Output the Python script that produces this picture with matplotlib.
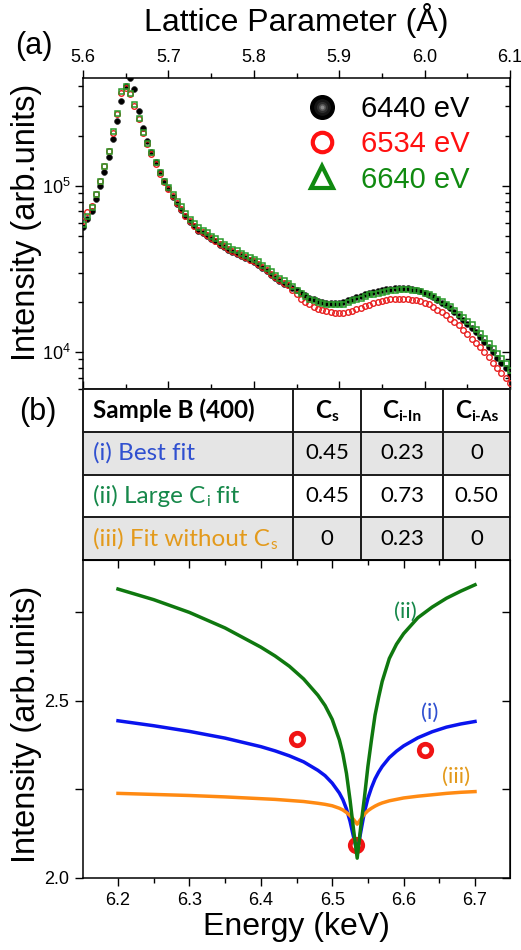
import numpy as np
import matplotlib
matplotlib.use("Agg")
import matplotlib.pyplot as plt
from matplotlib.lines import Line2D
from matplotlib.patches import Rectangle
from matplotlib.legend_handler import HandlerTuple
from matplotlib.ticker import (MultipleLocator, FixedLocator, NullFormatter,
                               FuncFormatter, LogLocator)
from matplotlib import font_manager

# ---------------- data: panel (a) ----------------
# lattice parameter sampling grid (Angstrom), 5.600 ... 6.100 in 0.005 steps
lattice = np.round(np.arange(5.600, 6.1001, 0.005), 3)

# log10 of intensity
log_6440 = [4.75, 4.80, 4.85, 4.92, 5.00, 5.08, 5.17, 5.28, 5.39, 5.51,
            5.60, 5.65, 5.58, 5.45, 5.35, 5.27, 5.20, 5.14, 5.08, 5.03,
            4.985, 4.93, 4.89, 4.855, 4.815, 4.78, 4.755, 4.73, 4.715, 4.70,
            4.68, 4.665, 4.645, 4.63, 4.615, 4.60, 4.59, 4.575, 4.565, 4.55,
            4.54, 4.525, 4.505, 4.485, 4.465, 4.445, 4.425, 4.41, 4.40, 4.385,
            4.37, 4.355, 4.34, 4.325, 4.315, 4.305, 4.30, 4.295, 4.292, 4.292,
            4.293, 4.30, 4.31, 4.32, 4.33, 4.335, 4.345, 4.355, 4.36, 4.365,
            4.37, 4.376, 4.38, 4.383, 4.384, 4.384, 4.383, 4.38, 4.375, 4.368,
            4.355, 4.342, 4.33, 4.313, 4.296, 4.28, 4.262, 4.237, 4.215, 4.193,
            4.167, 4.145, 4.118, 4.09, 4.06, 4.03, 3.998, 3.96, 3.93, 3.90,
            3.86]
log_6534 = [4.79, 4.84, 4.88, 4.95, 5.03, 5.12, 5.21, 5.32, 5.43, 5.56,
            5.59, 5.55, 5.48, 5.40, 5.315, 5.25, 5.19, 5.13, 5.07, 5.02,
            4.98, 4.935, 4.895, 4.86, 4.82, 4.785, 4.76, 4.735, 4.72, 4.705,
            4.685, 4.67, 4.65, 4.635, 4.62, 4.605, 4.595, 4.58, 4.57, 4.555,
            4.545, 4.53, 4.51, 4.49, 4.47, 4.45, 4.43, 4.415, 4.40, 4.375,
            4.35, 4.32, 4.30, 4.287, 4.272, 4.26, 4.25, 4.243, 4.238, 4.235,
            4.234, 4.236, 4.24, 4.246, 4.256, 4.266, 4.276, 4.284, 4.292, 4.30,
            4.306, 4.311, 4.315, 4.318, 4.319, 4.318, 4.316, 4.313, 4.309, 4.304,
            4.295, 4.287, 4.27, 4.252, 4.237, 4.22, 4.20, 4.18, 4.16, 4.13,
            4.108, 4.08, 4.055, 4.03, 4.00, 3.97, 3.935, 3.90, 3.87, 3.84,
            3.81]
log_6640 = [4.77, 4.82, 4.87, 4.95, 5.03, 5.12, 5.21, 5.33, 5.44, 5.57,
            5.60, 5.56, 5.49, 5.41, 5.325, 5.26, 5.20, 5.14, 5.08, 5.03,
            4.99, 4.95, 4.91, 4.875, 4.835, 4.80, 4.775, 4.75, 4.735, 4.72,
            4.70, 4.685, 4.665, 4.65, 4.635, 4.62, 4.61, 4.595, 4.585, 4.57,
            4.56, 4.545, 4.525, 4.505, 4.485, 4.465, 4.445, 4.43, 4.415, 4.395,
            4.375, 4.355, 4.335, 4.32, 4.31, 4.30, 4.295, 4.29, 4.285, 4.285,
            4.285, 4.29, 4.30, 4.31, 4.32, 4.325, 4.335, 4.345, 4.35, 4.355,
            4.36, 4.368, 4.372, 4.375, 4.376, 4.376, 4.376, 4.374, 4.37, 4.365,
            4.355, 4.345, 4.335, 4.32, 4.305, 4.29, 4.275, 4.25, 4.23, 4.21,
            4.185, 4.165, 4.14, 4.113, 4.085, 4.055, 4.025, 3.99, 3.96, 3.93,
            3.89]
energy_labels = ["6440 eV", "6534 eV", "6640 eV"]
lattice_ticks = [5.6, 5.7, 5.8, 5.9, 6.0, 6.1]

# ---------------- data: table (b) ----------------
table_cols = ["Sample B (400)", ("C", "s"), ("C", "i-In"), ("C", "i-As")]
table_rows = [[("(i) Best fit", False)],
              [("(ii) Large C", False), ("i", True), (" fit", False)],
              [("(iii) Fit without C", False), ("s", True)]]
table_vals = [["0.45", "0.23", "0"],
              ["0.45", "0.73", "0.50"],
              ["0", "0.23", "0"]]

# ---------------- data: panel (b) curves ----------------
E_fit = [6.20, 6.25, 6.30, 6.35, 6.40, 6.42, 6.44, 6.46, 6.48, 6.49, 6.50,
         6.51, 6.515, 6.52, 6.525, 6.53, 6.535, 6.54, 6.545, 6.55, 6.555, 6.56,
         6.565, 6.57, 6.58, 6.59, 6.60, 6.62, 6.64, 6.66, 6.68, 6.70]
I_best = [2.444, 2.430, 2.414, 2.395, 2.371, 2.359, 2.345, 2.328, 2.304, 2.289,
          2.268, 2.240, 2.221, 2.195, 2.160, 2.115, 2.075, 2.130, 2.185, 2.225,
          2.255, 2.280, 2.299, 2.315, 2.340, 2.358, 2.373, 2.396, 2.413, 2.426,
          2.435, 2.442]
I_large = [2.816, 2.786, 2.750, 2.706, 2.652, 2.627, 2.598, 2.562, 2.516, 2.487,
           2.448, 2.390, 2.350, 2.295, 2.220, 2.135, 2.056, 2.145, 2.225, 2.315,
           2.390, 2.460, 2.510, 2.555, 2.620, 2.660, 2.690, 2.735, 2.765, 2.790,
           2.810, 2.828]
I_nocs = [2.239, 2.236, 2.233, 2.229, 2.224, 2.222, 2.219, 2.216, 2.211, 2.208,
          2.204, 2.197, 2.192, 2.185, 2.176, 2.165, 2.152, 2.166, 2.180, 2.190,
          2.197, 2.203, 2.208, 2.212, 2.218, 2.222, 2.226, 2.231, 2.235, 2.239,
          2.242, 2.244]
E_meas = [6.45, 6.533, 6.63]
I_meas = [2.393, 2.093, 2.362]
curve_tags = ["(i)", "(ii)", "(iii)"]
tag_E = [6.637, 6.602, 6.673]
tag_I = [2.465, 2.752, 2.286]
energy_ticks = [6.2, 6.3, 6.4, 6.5, 6.6, 6.7]

# ---------------- styling ----------------
names = {f.name for f in font_manager.fontManager.ttflist}
MAIN = "Liberation Sans" if "Liberation Sans" in names else "DejaVu Sans"
TABF = "Lato" if "Lato" in names else MAIN
plt.rcParams["font.family"] = [MAIN, "DejaVu Sans"]
plt.rcParams["mathtext.fontset"] = "custom"
plt.rcParams["mathtext.rm"] = MAIN
plt.rcParams["mathtext.it"] = MAIN + ":italic"
plt.rcParams["mathtext.bf"] = MAIN + ":bold"
plt.rcParams["mathtext.default"] = "regular"

C_BLUE, C_GREEN, C_ORANGE = "#0a14ee", "#0f780f", "#ff8a12"
T_BLUE, T_GREEN, T_ORANGE = "#3050d0", "#16884a", "#e39a1c"

W, H = 521, 950
fig = plt.figure(figsize=(W / 100, H / 100), dpi=100)


def box(l, t, r, b):
    return [l / W, 1 - b / H, (r - l) / W, (b - t) / H]


def mirror(ax, which, direction="in"):
    if which == "x":
        sec = ax.secondary_xaxis("bottom" if ax.xaxis.get_ticks_position() == "top" else "top")
        sec.xaxis.set_major_locator(ax.xaxis.get_major_locator())
        sec.xaxis.set_minor_locator(ax.xaxis.get_minor_locator())
        sec.xaxis.set_major_formatter(NullFormatter())
        sec.xaxis.set_minor_formatter(NullFormatter())
    else:
        sec = ax.secondary_yaxis("right")
        sec.yaxis.set_major_locator(ax.yaxis.get_major_locator())
        sec.yaxis.set_minor_locator(ax.yaxis.get_minor_locator())
        sec.yaxis.set_major_formatter(NullFormatter())
        sec.yaxis.set_minor_formatter(NullFormatter())
    sec.tick_params(which="major", direction=direction, length=6, width=1)
    sec.tick_params(which="minor", direction=direction, length=3.5, width=1)
    return sec


# ================= panel (a) =================
ax1 = fig.add_axes(box(83, 78, 510, 389))
ax1.plot(lattice, 10 ** np.array(log_6440), "o", ms=4.2, mfc="black", mec="#333333",
         mew=0.5, zorder=2)
ax1.plot(lattice, 10 ** np.array(log_6534), "o", ms=4.0, mfc="none", mec="#e82020",
         mew=1.0, zorder=3)
ax1.plot(lattice, 10 ** np.array(log_6640), "s", ms=3.6, mfc="none", mec="#2a9a2a",
         mew=1.1, zorder=4)
ax1.set_xlim(5.6, 6.1)
ax1.set_yscale("log")
ax1.set_ylim(5.97e3, 4.45e5)

ax1.xaxis.tick_top()
ax1.xaxis.set_label_position("top")
ax1.xaxis.set_major_locator(FixedLocator(lattice_ticks))
ax1.xaxis.set_minor_locator(MultipleLocator(0.05))
ax1.xaxis.set_major_formatter(FuncFormatter(lambda v, p: f"{v:.1f}"))
ax1.yaxis.set_major_locator(FixedLocator([1e4, 1e5]))
ax1.yaxis.set_minor_locator(LogLocator(base=10, subs=range(2, 10)))
ax1.yaxis.set_major_formatter(FuncFormatter(lambda v, p: r"$10^{%d}$" % round(np.log10(v))))
ax1.yaxis.set_minor_formatter(NullFormatter())
ax1.tick_params(which="major", direction="out", length=6, width=1, labelsize=13, pad=3)
ax1.tick_params(which="minor", direction="out", length=3.5, width=1)
mirror(ax1, "x")
mirror(ax1, "y")

ax1.set_xlabel("Lattice Parameter (Å)", fontsize=23)
ax1.xaxis.set_label_coords(0.5, 1.15)
ax1.set_ylabel("Intensity (arb.units)", fontsize=23.5)
ax1.yaxis.set_label_coords(-0.096, 0.537)

sphere = tuple(Line2D([], [], ls="none", marker="o", ms=s, mfc=c, mec=c)
               for s, c in [(17, "#000000"), (11, "#161616"), (7, "#2e2e2e"),
                            (4, "#555555"), (1.8, "#8a8a8a")])
h_red = Line2D([], [], ls="none", marker="o", ms=14, mfc="none", mec="#ff1010", mew=3)
h_green = Line2D([], [], ls="none", marker="^", ms=16, mfc="none", mec="#108a10", mew=3)
ax1.legend([sphere, h_red, h_green], energy_labels,
           handler_map={tuple: HandlerTuple(ndivide=1, pad=0)},
           loc="upper left", bbox_to_anchor=(0.47, 1.02), frameon=False,
           fontsize=21, labelcolor=["#000000", "#ff1010", "#108a10"],
           handlelength=1.0, handletextpad=0.85, labelspacing=0.25, borderpad=0.3)

fig.text(34 / W, 1 - 46 / H, "(a)", fontsize=22, ha="center", va="center")

# ================= table (b) =================
tab = fig.add_axes(box(83, 389, 510, 560))
tab.set_xlim(0, 1)
tab.set_ylim(0, 4)
tab.axis("off")
col_edges = [0.0, 0.492, 0.651, 0.843, 1.0]
col_cent = [(col_edges[i] + col_edges[i + 1]) / 2 for i in range(4)]
row_fill = ["white", "#e5e5e5", "white", "#e5e5e5"]
for k, fc in enumerate(row_fill):
    tab.add_patch(Rectangle((0, 3 - k), 1, 1, facecolor=fc, edgecolor="none"))
for yv in range(5):
    tab.plot([0, 1], [yv, yv], color="#1a1a1a", lw=1.4, clip_on=False,
             solid_capstyle="projecting")
for xv in col_edges:
    tab.plot([xv, xv], [0, 4], color="#1a1a1a", lw=1.4, clip_on=False,
             solid_capstyle="projecting")

fig.text(38 / W, 1 - 412 / H, "(b)", fontsize=22, ha="center", va="center")

rich_groups = []


def rich(ax, x, y, parts, size, color, weight="normal", center=False):
    first = ax.text(x, y, parts[0][0], fontsize=size, color=color, fontweight=weight,
                    family=TABF, ha="left", va="center")
    prev = first
    arts = [first]
    for s, sub in parts[1:]:
        if sub:
            t = ax.annotate(s, xy=(1, 0), xycoords=(prev, first), xytext=(0.3, -1.6),
                            textcoords="offset points", fontsize=size * 0.64, color=color,
                            fontweight=weight, family=TABF, ha="left", va="bottom")
        else:
            t = ax.annotate(s, xy=(1, 0), xycoords=(prev, first), xytext=(0, 0),
                            textcoords="offset points", fontsize=size, color=color,
                            fontweight=weight, family=TABF, ha="left", va="bottom")
        arts.append(t)
        prev = t
    if center:
        rich_groups.append((ax, x, first, arts))
    return arts


rich(tab, 0.024, 3.5, [(table_cols[0], False)], 17.5, "black", "bold")
for j in range(1, 4):
    base, sub = table_cols[j]
    rich(tab, col_cent[j], 3.5, [(base, False), (sub, True)], 17.5, "black", "bold",
         center=True)
row_colors = [T_BLUE, T_GREEN, T_ORANGE]
for i, parts in enumerate(table_rows):
    yc = 2.5 - i
    rich(tab, 0.024, yc, parts, 17.5, row_colors[i])
    for j, v in enumerate(table_vals[i]):
        tab.text(col_cent[j + 1], yc, v, fontsize=16, family=TABF, ha="center",
                 va="center", color="black")

# ================= panel (b) curves =================
ax2 = fig.add_axes(box(83, 560, 510, 878))
ax2.plot(E_fit, I_best, color=C_BLUE, lw=2.5, zorder=2, solid_joinstyle="round")
ax2.plot(E_fit, I_nocs, color=C_ORANGE, lw=2.5, zorder=3, solid_joinstyle="round")
ax2.plot(E_meas, I_meas, "o", ms=9, mfc="none", mec="#f01414", mew=3.4, zorder=4)
ax2.plot(E_fit, I_large, color=C_GREEN, lw=2.5, zorder=5, solid_joinstyle="round")
for tag, e, v, c in zip(curve_tags, tag_E, tag_I, [T_BLUE, T_GREEN, T_ORANGE]):
    ax2.text(e, v, tag, color=c, fontsize=16, family=TABF, ha="center", va="center")

ax2.set_xlim(6.151, 6.749)
ax2.set_ylim(2.0, 2.898)
ax2.xaxis.set_major_locator(FixedLocator(energy_ticks))
ax2.xaxis.set_minor_locator(MultipleLocator(0.05))
ax2.xaxis.set_major_formatter(FuncFormatter(lambda v, p: f"{v:.1f}"))
ax2.yaxis.set_major_locator(MultipleLocator(0.25))
ax2.yaxis.set_major_formatter(FuncFormatter(
    lambda v, p: f"{v:.1f}" if abs(v * 2 - round(v * 2)) < 1e-6 else ""))
ax2.tick_params(which="major", direction="out", length=6, width=1, labelsize=13, pad=4)
ax2.tick_params(which="minor", direction="out", length=3.5, width=1)
mirror(ax2, "x")
mirror(ax2, "y")
ax2.set_xlabel("Energy (keV)", fontsize=23, labelpad=2)
ax2.set_ylabel("Intensity (arb.units)", fontsize=23.5)
ax2.yaxis.set_label_coords(-0.096, 0.484)

for a in (ax1, ax2):
    for sp in a.spines.values():
        sp.set_linewidth(1.1)

# center the subscripted header groups in their cells
fig.canvas.draw()
r = fig.canvas.get_renderer()
for ax, x, first, arts in rich_groups:
    x0 = first.get_window_extent(r).x0
    x1 = arts[-1].get_window_extent(r).x1
    ppd = ax.transData.transform((1, 0))[0] - ax.transData.transform((0, 0))[0]
    first.set_x(x - (x1 - x0) / 2 / ppd)

fig.savefig("out.png", dpi=100)
